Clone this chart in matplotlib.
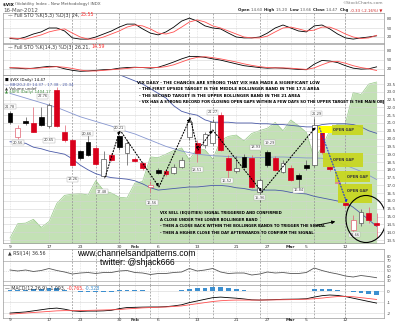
import matplotlib
matplotlib.use('Agg')
import matplotlib.pyplot as plt
from matplotlib.patches import Rectangle, Ellipse

W, H = 400, 323

# trading days 9-Jan-2012 .. 16-Mar-2012, one index per session
tick_idx = [0, 5, 9, 14, 16, 19, 24, 29, 33, 36, 38, 43]
tick_lbl = ['9', '17', '23', '30', 'Feb', '6', '13', '21', '27', 'Mar', '5', '12']
# sessions marked with dashed verticals (swing points)
marker_days = [8, 11, 14, 18, 23, 26, 32, 39, 43]

prev_close = 20.63
opens = [21.62, 20.12, 21.15, 20.98, 21.40, 20.83, 23.12, 20.45, 19.91, 19.23,
         19.76, 19.38, 17.60, 18.95, 20.15, 19.06, 18.69, 18.42, 16.92, 17.99,
         17.92, 17.78, 18.16, 20.13, 19.72, 19.60, 19.70, 21.50, 18.76, 17.90,
         18.85, 18.76, 16.58, 19.14, 18.76, 17.86, 18.12, 17.67, 18.31, 18.30,
         20.55, 18.18, 17.15, 15.87, 14.14, 14.59, 15.20, 14.60]
highs = [21.78, 20.90, 21.40, 22.05, 22.05, 22.30, 23.29, 20.87, 19.95, 19.30,
         20.30, 19.50, 19.20, 19.05, 20.21, 19.90, 18.80, 18.50, 17.30, 18.10,
         18.05, 18.35, 18.80, 21.40, 19.90, 20.40, 21.27, 21.70, 18.94, 18.90,
         19.00, 18.93, 17.50, 19.29, 18.90, 18.60, 18.30, 17.80, 18.60, 21.29,
         20.60, 18.40, 17.50, 16.00, 15.10, 15.50, 15.60, 15.20]
lows = [20.95, 19.95, 20.85, 20.40, 20.80, 20.65, 20.75, 19.80, 18.26, 18.60,
        18.90, 18.30, 17.48, 18.55, 19.30, 18.30, 18.50, 18.00, 16.56, 17.70,
        17.60, 17.70, 18.10, 19.90, 18.51, 19.40, 19.60, 19.20, 17.35, 17.80,
        18.10, 16.85, 15.96, 18.20, 17.90, 17.80, 17.30, 16.84, 18.00, 18.20,
        19.00, 17.90, 17.00, 15.60, 13.90, 14.40, 14.60, 13.66]
closes = [21.09, 20.66, 21.02, 20.45, 20.87, 22.15, 20.83, 19.91, 18.31, 18.74,
          18.95, 18.37, 18.70, 18.63, 19.49, 19.70, 18.56, 18.10, 17.03, 17.82,
          17.71, 18.20, 18.63, 21.09, 19.08, 20.30, 21.09, 19.30, 17.99, 18.10,
          18.20, 16.90, 17.35, 18.31, 17.99, 18.44, 17.35, 17.40, 18.12, 20.87,
          19.14, 18.05, 17.22, 15.74, 14.80, 15.31, 14.80, 14.47]

bb_upper = [25.2, 25.1, 25.0, 24.9, 24.8, 24.8, 24.7, 24.6, 24.6, 24.5,
            24.4, 24.4, 24.3, 24.2, 24.1, 23.9, 23.7, 23.5, 23.2, 22.9,
            22.6, 22.1, 21.75, 21.6, 21.5, 21.2, 21.05, 21.05, 21.05, 21.0,
            21.0, 21.0, 20.95, 20.95, 20.9, 20.9, 20.85, 20.8, 20.75, 20.75,
            20.9, 20.95, 20.95, 20.95, 20.9, 20.75, 20.5, 20.34]
bb_mid = [22.9, 22.75, 22.6, 22.45, 22.3, 22.15, 22.0, 21.8, 21.6, 21.4,
          21.25, 21.1, 20.95, 20.8, 20.6, 20.45, 20.3, 20.1, 19.9, 19.7,
          19.5, 19.35, 19.2, 19.1, 19.0, 18.95, 18.9, 18.88, 18.85, 18.82,
          18.8, 18.78, 18.78, 18.8, 18.82, 18.82, 18.8, 18.78, 18.76, 18.76,
          18.74, 18.65, 18.5, 18.3, 18.1, 17.9, 17.65, 17.38]
bb_lower = [19.8, 19.75, 19.7, 19.45, 19.35, 19.2, 19.1, 19.0, 18.7, 18.3,
            18.0, 17.75, 17.6, 17.5, 17.45, 17.4, 17.3, 17.1, 16.85, 16.7,
            16.75, 16.8, 16.85, 16.9, 16.9, 16.95, 17.0, 17.0, 16.95, 16.85,
            16.8, 16.7, 16.7, 16.7, 16.7, 16.65, 16.55, 16.5, 16.45, 16.3,
            16.2, 16.1, 16.0, 15.9, 15.6, 15.2, 14.8, 14.37]

spx = [1280.7, 1292.1, 1292.5, 1295.5, 1289.1, 1293.7, 1308.0, 1314.5, 1315.4, 1316.0,
       1314.7, 1326.1, 1318.4, 1316.3, 1313.0, 1312.4, 1324.1, 1325.5, 1344.9, 1344.3,
       1347.1, 1350.0, 1352.0, 1342.6, 1351.8, 1350.5, 1343.2, 1358.0, 1361.2, 1362.2,
       1357.7, 1363.5, 1365.7, 1367.6, 1372.2, 1365.7, 1374.1, 1369.6, 1364.3, 1343.4,
       1352.6, 1365.9, 1370.9, 1371.1, 1396.0, 1394.3, 1402.6, 1404.2]

sto5_k = [15, 13, 20, 30, 37, 50, 50, 40, 17, 13, 13, 20, 30, 40, 53, 63, 63, 47, 33, 27,
          37, 53, 73, 83, 73, 57, 50, 47, 33, 20, 17, 17, 20, 33, 50, 60, 50, 40, 37, 57,
          60, 47, 30, 17, 13, 17, 20, 24]
sto5_d = [17, 15, 13, 20, 27, 37, 43, 47, 33, 20, 13, 13, 20, 30, 40, 53, 60, 57, 47, 33,
          30, 37, 53, 70, 77, 70, 57, 50, 40, 30, 20, 17, 17, 23, 37, 50, 53, 47, 40, 43,
          53, 53, 43, 30, 20, 15, 17, 25.55]
sto14_k = [23, 22, 20, 22, 25, 28, 27, 20, 15, 12, 13, 15, 17, 18, 22, 24, 25, 24, 22, 25,
           33, 42, 52, 60, 60, 57, 52, 48, 42, 36, 30, 27, 24, 22, 23, 22, 20, 18, 17, 35,
           47, 45, 40, 30, 22, 19, 20, 26.21]
sto14_d = [24, 23, 22, 21, 23, 25, 27, 25, 21, 16, 13, 13, 15, 17, 19, 21, 24, 24, 24, 24,
           27, 33, 42, 51, 57, 59, 56, 52, 47, 42, 36, 31, 27, 24, 23, 23, 22, 20, 18, 23,
           33, 42, 44, 38, 30, 24, 20, 14.59]

rsi = [52, 50, 52, 49, 51, 55, 51, 48, 44, 46, 47, 45, 47, 47, 50, 51, 47, 46, 43, 45,
       45, 47, 48, 55, 50, 52, 55, 48, 45, 46, 46, 42, 44, 48, 46, 47, 45, 45, 47, 56,
       51, 47, 44, 40, 38, 41, 39, 36.56]

macd = [-2.0, -1.95, -1.9, -1.8, -1.7, -1.6, -1.55, -1.65, -1.8, -1.85, -1.82, -1.82, -1.8, -1.75,
        -1.6, -1.5, -1.48, -1.46, -1.45, -1.45, -1.42, -1.35, -1.25, -1.05, -0.9, -0.75, -0.6,
        -0.55, -0.6, -0.65, -0.72, -0.8, -0.82, -0.8, -0.78, -0.75, -0.74, -0.73, -0.7, -0.55,
        -0.42, -0.36, -0.4, -0.5, -0.65, -0.8, -0.95, -1.093]
macd_sig = [-2.1, -2.05, -2.0, -1.95, -1.9, -1.85, -1.8, -1.78, -1.78, -1.78, -1.76, -1.74,
            -1.72, -1.7, -1.68, -1.62, -1.58, -1.53, -1.5, -1.47, -1.45, -1.4, -1.35, -1.25,
            -1.15, -1.05, -0.95, -0.88, -0.84, -0.82, -0.82, -0.82, -0.82, -0.81, -0.8, -0.79,
            -0.78, -0.76, -0.74, -0.7, -0.64, -0.56, -0.5, -0.48, -0.52, -0.6, -0.68, -0.765]
macd_hist = [0.1, 0.1, 0.1, 0.15, 0.2, 0.25, 0.25, 0.13, -0.02, -0.07, -0.06, -0.08, -0.08,
             -0.05, 0.08, 0.12, 0.1, 0.07, 0.05, 0.02, 0.03, 0.05, 0.1, 0.2, 0.25, 0.3, 0.35,
             0.33, 0.24, 0.17, 0.1, 0.02, 0.0, 0.01, 0.02, 0.04, 0.04, 0.03, 0.04, 0.15, 0.22,
             0.2, 0.1, -0.02, -0.13, -0.2, -0.27, -0.328]

# hand-drawn swing path (session index, price)
swing_x = [12.2, 14.1, 19.1, 23.1, 24.1, 26.0, 32.3, 39.2]
swing_y = [17.54, 20.55, 16.9, 21.32, 19.27, 20.55, 16.58, 20.74]
drop_x = [39.7, 43.2]
drop_y = [20.68, 15.87]

price_tags = [(0, 22.05, '21.78'), (1, 19.75, '20.56'), (4.2, 22.7, '22.76'),
              (5, 19.9, '20.65'), (8, 17.4, '18.26'), (9.9, 20.3, '20.66'),
              (14, 20.65, '20.21'), (11.8, 16.6, '17.48'), (18.2, 15.9, '16.56'),
              (24, 18.0, '18.51'), (26, 21.7, '21.27'), (27.8, 17.3, '16.52'),
              (31.5, 19.45, '18.93'), (33.3, 19.75, '19.29'), (32, 16.2, '15.96'),
              (37, 16.7, '16.84'), (39.3, 21.6, '21.29'), (44.2, 13.85, '13.66')]

# open-gap boxes: (left idx, bottom, right idx, top)
gap_boxes = [(41.3, 20.23, 45.3, 20.87), (40.1, 18.18, 45.3, 19.08),
             (41.7, 17.22, 46.2, 17.92), (42.1, 15.87, 46.4, 17.09)]
gap_text = [(41.4, 20.55), (41.4, 18.63), (43.2, 17.57), (43.2, 16.64)]
gap_fill = (39.5, 20.36, 41.3, 20.8)

note_top = ['VIX DAILY - THE CHANCES ARE STRONG THAT VIX HAS MADE A SIGNIFICANT LOW',
            '- THE FIRST UPSIDE TARGET IS THE MIDDLE BOLLINGER BAND IN THE 17.5 AREA',
            '- THE SECOND TARGET IS THE UPPER BOLLINGER BAND IN THE 21 AREA',
            '- VIX HAS A STRONG RECORD FOR CLOSING OPEN GAPS WITHIN A FEW DAYS SO THE UPPER TARGET IS THE MAIN OBJ']
note_low = ['VIX SELL (EQUITIES) SIGNAL TRIGGERED AND CONFIRMED',
            'A CLOSE UNDER THE LOWER BOLLINGER BAND',
            '- THEN A CLOSE BACK WITHIN THE BOLLINGER BANDS TO TRIGGER THE SIGNAL',
            '- THEN A HIGHER CLOSE THE DAY AFTERWARDS TO CONFIRM THE SIGNAL']

X0, X1 = 3, 384
PX_DAY = 7.8
XLIM = ((X0 - 10) / PX_DAY, (X1 - 10) / PX_DAY)
RED = '#d9001b'


def px_axes(fig, left, top, right, bottom):
    return fig.add_axes([left / W, 1 - bottom / H, (right - left) / W, (bottom - top) / H])


def ix(xpx):
    return (xpx - 10) / PX_DAY


def pv(ypx):
    return 23.5 - (ypx - 84) / 15.6


fig = plt.figure(figsize=(W / 100, H / 100), dpi=100)
renderer = fig.canvas.get_renderer()


def run_width(pieces, size):
    w = 0
    for piece in pieces:
        t = fig.text(0, 0, piece[0], fontsize=size,
                     weight=piece[2] if len(piece) > 2 else 'normal')
        w += t.get_window_extent(renderer).width
        t.remove()
    return w


def fitted_size(s, width_px, **kw):
    t = fig.text(0, 0, s, fontsize=10, **kw)
    w = t.get_window_extent(renderer).width
    t.remove()
    return 10 * width_px / w


def text_run(x_px, y_px, pieces, size, **kw):
    # consecutive pieces on one line, placed in figure pixels
    x = x_px
    for piece in pieces:
        s, col = piece[0], piece[1]
        extra = dict(kw)
        if len(piece) > 2:
            extra['weight'] = piece[2]
        t = fig.text(x / W, 1 - y_px / H, s, fontsize=size, color=col, va='center', **extra)
        x += t.get_window_extent(renderer).width
    return x


def base_panel(ax, ylim, yticks, ylabels=None, size=3.0):
    ax.set_xlim(*XLIM)
    ax.set_ylim(*ylim)
    for s in ax.spines.values():
        s.set_color('#9a9a9a')
        s.set_linewidth(0.5)
    ax.set_yticks(yticks)
    ax.set_yticklabels(ylabels if ylabels else [str(t) for t in yticks])
    ax.tick_params(axis='y', length=0, pad=2, labelsize=size, colors='#444444',
                   left=False, labelleft=False, right=False, labelright=True)
    ax.tick_params(axis='x', length=0, labelbottom=False)
    ax.set_xticks(tick_idx)
    ax.grid(True, axis='x', color='#d4d4d4', lw=0.4, ls=(0, (1.5, 1.5)))
    ax.grid(True, axis='y', color='#d4d4d4', lw=0.4, ls='-')
    for d in marker_days:
        ax.axvline(d, color='#8c8c8c', lw=0.5, ls=(0, (2.5, 2)), zorder=1)
    ax.set_axisbelow(True)


# header
title = [('$VIX ', 'black', 'bold'), ('(Volatility Index - New Methodology) INDX', '#555555')]
hsize = 10 * 100 / run_width(title, 10)
text_run(3, 4.5, title, hsize)
text_run(3, 10.5, [('16-Mar-2012', '#555555')], fitted_size('16-Mar-2012', 35))
fig.text(383 / W, 1 - 3.5 / H, '\u00a9StockCharts.com', color='#777777',
         fontsize=fitted_size('\u00a9StockCharts.com', 40), va='center', ha='right')
quote = [('Open ', '#222222', 'bold'), ('14.60  ', '#555555'),
         ('High ', '#222222', 'bold'), ('15.20  ', '#555555'),
         ('Low ', '#222222', 'bold'), ('13.66  ', '#555555'),
         ('Close ', '#222222', 'bold'), ('14.47  ', '#555555'),
         ('Chg ', '#222222', 'bold'), ('-0.33 (-2.16%) \u25bc', '#cc2222')]
text_run(238, 10, quote, 10 * 145 / run_width(quote, 10))

idx = list(range(len(closes)))
leg = fitted_size('\u2014 Full STO %K(5,3) %D(3) 24, 25.55', 87)

# Full STO (5,3)
ax1 = px_axes(fig, X0, 13, X1, 43)
base_panel(ax1, (0, 100), [20, 50, 80])
ax1.plot(idx, sto5_k, color='black', lw=0.6)
ax1.plot(idx, sto5_d, color='#ff5050', lw=0.6)
text_run(8, 15, [('\u2014 Full STO %K(5,3) %D(3) 24, ', '#333333'), ('25.55', '#ff3030')], leg)

# Full STO (14,3)
ax2 = px_axes(fig, X0, 44, X1, 75)
base_panel(ax2, (0, 100), [20, 50, 80])
ax2.plot(idx, sto14_k, color='black', lw=0.6)
ax2.plot(idx, sto14_d, color='#ff5050', lw=0.6)
text_run(8, 47, [('\u2014 Full STO %K(14,3) %D(3) 26.21, ', '#333333'), ('14.59', '#ff3030')],
         leg)

# price panel; the S&P 500 area sits behind it on a hidden scale
ax = px_axes(fig, X0, 75, X1, 243)
axs = ax.twinx()
yt = [13.5 + 0.5 * k for k in range(21)]
base_panel(ax, (pv(243), pv(75)), yt, ['%.1f' % t for t in yt])
axs.set_xlim(*XLIM)
axs.set_ylim(1280.7 - 5 / 1.263, 1280.7 + 163 / 1.263)
axs.fill_between(idx, spx, 1200, color='#c3e1b5', lw=0)
axs.plot(idx, spx, color='#95c886', lw=0.5)
axs.set_yticks([])
axs.axis('off')
ax.set_zorder(axs.get_zorder() + 1)
ax.patch.set_visible(False)

ax.plot(idx, bb_upper, color='#4a5aa8', lw=0.6)
ax.plot(idx, bb_mid, color='#8797d0', lw=0.6)
ax.plot(idx, bb_lower, color='#4a5aa8', lw=0.6)

pc = prev_close
for i in idx:
    o, h, l, c = opens[i], highs[i], lows[i], closes[i]
    up_day = c >= pc
    col = 'black' if up_day else RED
    soft = '#555555' if up_day else '#e06070'
    ax.vlines(i, l, h, color=soft, lw=0.5, zorder=3)
    lo_b, hi_b = min(o, c), max(o, c)
    hollow = c > o
    ax.add_patch(Rectangle((i - 0.3, lo_b), 0.6, max(hi_b - lo_b, 0.05),
                           facecolor='white' if hollow else col,
                           edgecolor=soft if hollow else col, lw=0.5, zorder=4))
    pc = c

gx0, gy0, gx1, gy1 = gap_fill
ax.add_patch(Rectangle((gx0, gy0), gx1 - gx0, gy1 - gy0, facecolor='#ffff00',
                       edgecolor='none', zorder=5))
gsize = fitted_size('OPEN GAP', 21, weight='bold')
for (bx0, by0, bx1, by1), (tx, ty) in zip(gap_boxes, gap_text):
    ax.add_patch(Rectangle((bx0, by0), bx1 - bx0, by1 - by0, facecolor='#c8d61a',
                           edgecolor='none', alpha=0.9, zorder=5))
    ax.text(tx, ty, 'OPEN GAP', fontsize=gsize, weight='bold', color='#3a3a3a',
            va='center', zorder=6)

for k in range(len(swing_x) - 1):
    ax.annotate('', xy=(swing_x[k + 1], swing_y[k + 1]), xytext=(swing_x[k], swing_y[k]),
                arrowprops=dict(arrowstyle='-|>', color='black', lw=0.8, ls=':',
                                mutation_scale=4, shrinkA=0, shrinkB=0), zorder=7)
ax.annotate('', xy=(drop_x[1], drop_y[1]), xytext=(drop_x[0], drop_y[0]),
            arrowprops=dict(arrowstyle='-|>', color='#1a33dd', lw=0.8, ls=':',
                            mutation_scale=4, shrinkA=0, shrinkB=0), zorder=7)

for tx, ty, tt in price_tags:
    ax.text(tx, ty, tt, fontsize=2.6, color='#444444', ha='center', va='center', zorder=8,
            bbox=dict(boxstyle='square,pad=0.15', fc='white', ec='#aaaaaa', lw=0.3))

ax.add_patch(Ellipse((ix(366), pv(219)), 40 / PX_DAY, 47 / 15.6, fill=False, ec='black',
                     lw=0.8, zorder=8))

nsize = fitted_size(note_top[0], 180, weight='bold')
for k, line in enumerate(note_top):
    size = nsize if k < 3 else fitted_size(line, 244, weight='bold')
    ax.text(ix(137 if k == 0 else 139), pv(83 + 6.5 * k), line, fontsize=size,
            weight='bold', va='center', zorder=9)
lsize = fitted_size(note_low[2], 168, weight='bold')
for k, line in enumerate(note_low):
    ax.text(ix(160), pv(213 + 6.6 * k), line, fontsize=lsize, weight='bold', va='center',
            zorder=9)
ax.annotate('', xy=(ix(338), pv(221)), xytext=(ix(313), pv(226)),
            arrowprops=dict(arrowstyle='-|>', color='black', lw=0.6, mutation_scale=5), zorder=9)

lg = 2.8
text_run(5, 80, [('\u25a0 $VIX (Daily) 14.47', 'black')], lg)
text_run(5, 84.5, [('\u2014 BB(20,2.0) 14.37 - 17.38 - 20.34', '#4a5aa8')], lg)
text_run(5, 88.5, [('\u25b2 Volume undef', '#333333')], lg)
text_run(5, 92.5, [('\u25b2 $SPX (Daily) 1404.17', '#3a8a3a')], lg)

for ti, tl in zip(tick_idx, tick_lbl):
    for yy in (246.5, 320):
        fig.text((10 + PX_DAY * ti) / W, 1 - yy / H, tl, fontsize=3.2, ha='center',
                 va='center', weight='bold' if tl in ('Feb', 'Mar') else 'normal',
                 color='#333333')

# RSI
ax3 = px_axes(fig, X0, 249, X1, 285)
base_panel(ax3, (22, 94), [30, 40, 50, 60, 70, 80], size=2.6)
ax3.grid(False, axis='y')
for lv in (70, 30):
    ax3.axhline(lv, color='#aaaaaa', lw=0.5)
ax3.axhline(50, color='#cccccc', lw=0.4, ls=(0, (2, 2)))
ax3.plot(idx, rsi, color='#555555', lw=0.6)
text_run(8, 253, [('\u25b2 RSI(14) 36.56', '#333333')], leg)
wsize = fitted_size('www.channelsandpatterns.com', 118, family='Liberation Sans')
fig.text(77 / W, 1 - 253.5 / H, 'www.channelsandpatterns.com', fontsize=wsize,
         family='Liberation Sans', va='center')
fig.text(100 / W, 1 - 262.5 / H, 'twitter: @shjack666', fontsize=wsize,
         family='Liberation Sans', va='center')

# MACD
ax4 = px_axes(fig, X0, 285, X1, 318)
base_panel(ax4, (-2.45, 0.55), [-2, -1, 0])
ax4.bar(idx, macd_hist, width=0.6, color='#3c8fd0')
ax4.plot(idx, macd, color='black', lw=0.6)
ax4.plot(idx, macd_sig, color='#ff5050', lw=0.6)
text_run(5, 288.5, [('\u2014 MACD(12,26,9) -1.093, ', '#333333'), ('-0.765, ', '#ff3030'),
                    ('-0.328', '#3c8fd0')], leg)

fig.savefig('out.png', dpi=100)
